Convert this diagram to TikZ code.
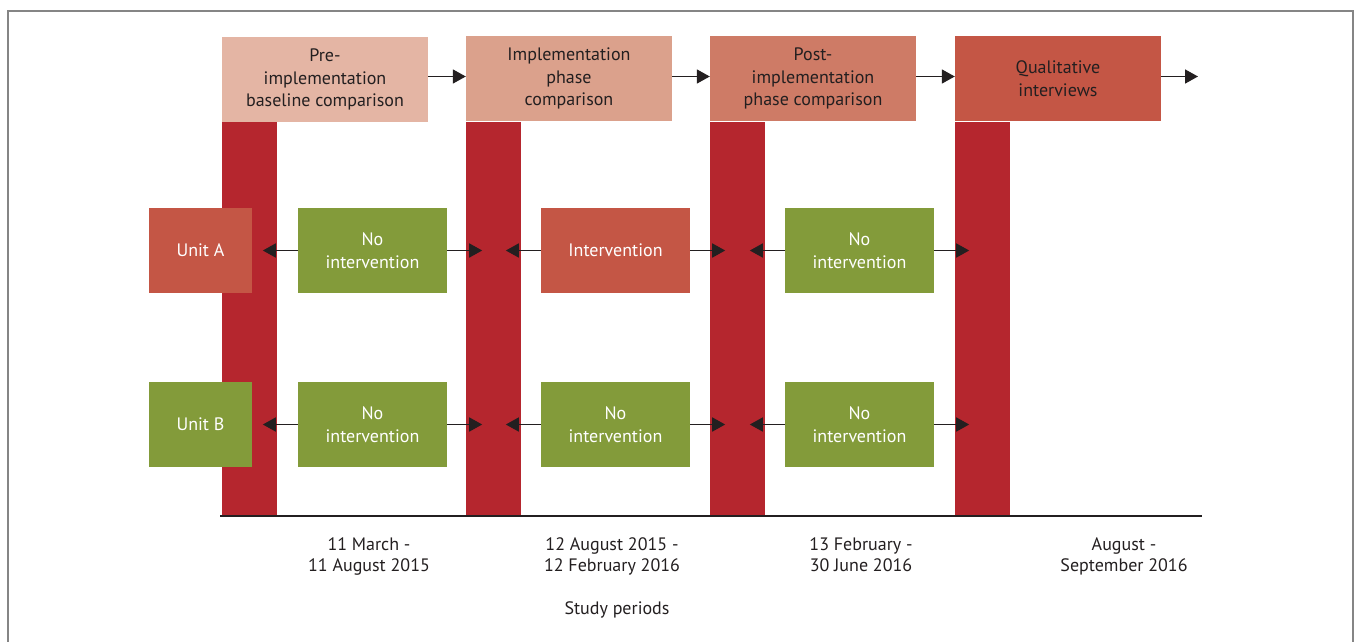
\documentclass[tikz,border=0pt]{standalone}
\usepackage{fontspec}
\setmainfont{PT Sans}
\usetikzlibrary{arrows.meta}
\definecolor{hdA}{HTML}{E4B5A4}
\definecolor{hdB}{HTML}{DBA18C}
\definecolor{hdC}{HTML}{CE7B66}
\definecolor{hdD}{HTML}{C45645}
\definecolor{barred}{HTML}{B5262E}
\definecolor{grn}{HTML}{839B3A}
\definecolor{ink}{HTML}{231F20}
\definecolor{framec}{HTML}{858585}
\begin{document}
\begin{tikzpicture}[x=1pt,y=-1pt,
  txt/.style={font=\fontsize{18}{22.5}\selectfont, align=center},
  hdr/.style={txt, minimum width=206pt, minimum height=85pt, inner sep=0pt, text=ink},
  bar/.style={fill=barred, minimum width=55pt, minimum height=394pt, inner sep=0pt},
  unitbox/.style={txt, minimum width=103pt, minimum height=85pt, inner sep=0pt, text=white},
  phase/.style={txt, minimum width=149pt, minimum height=85pt, inner sep=0pt, text=white},
  arr/.style={draw=ink, line width=1.6pt, -{Triangle[length=13pt,width=14pt]}},
  date/.style={txt, text=ink, font=\fontsize{18}{21}\selectfont, anchor=north, inner sep=0pt}]
\useasboundingbox (0,0) rectangle (1356,641);
\draw[framec, line width=1.6pt] (8,645) -- (8,11) -- (1353,11) -- (1353,645);
% header boxes
\node[hdr, fill=hdA] (h1) at (325,79.5) {Pre-\\implementation\\baseline comparison};
\node[hdr, fill=hdB] (h2) at (569,78.5) {Implementation\\phase\\comparison};
\node[hdr, fill=hdC] (h3) at (813,78.5) {Post-\\implementation\\phase comparison};
\node[hdr, fill=hdD] (h4) at (1058,78.5) {Qualitative\\interviews};
\coordinate (hend) at (1198,76.5);
\draw[arr] ([yshift=3pt]h1.east) -- ([yshift=2pt]h2.west);
\draw[arr] ([yshift=2pt]h2.east) -- ([yshift=2pt]h3.west);
\draw[arr] ([yshift=2pt]h3.east) -- ([yshift=2pt]h4.west);
\draw[arr] ([yshift=2pt]h4.east) -- (hend);
% bars
\node[bar] (b1) at (249.5,319) {};
\node[bar] (b2) at (493.5,319) {};
\node[bar] (b3) at (737.5,319) {};
\node[bar] (b4) at (982.5,319) {};
% baseline
\coordinate (axs) at (220,516);
\coordinate (axe) at (1202,516);
\draw[ink, line width=1.6pt] (axs) -- (axe);
% units
\node[unitbox, fill=hdD] (ua) at (200.5,250.5) {Unit A};
\node[unitbox, fill=grn] (ub) at (200.5,424.5) {Unit B};
% row A
\node[phase, fill=grn] (a1) at (372.5,250.5) {No\\intervention};
\node[phase, fill=hdD] (a2) at (615.5,250.5) {Intervention};
\node[phase, fill=grn] (a3) at (859.5,250.5) {No\\intervention};
% row B
\node[phase, fill=grn] (c1) at (372.5,424.5) {No\\intervention};
\node[phase, fill=grn] (c2) at (615.5,424.5) {No\\intervention};
\node[phase, fill=grn] (c3) at (859.5,424.5) {No\\intervention};
% arrow ends
\foreach \n in {a,c}{
  \foreach \i in {1,2,3}{
    \coordinate (\n\i L) at ([xshift=-35pt]\n\i.west);
    \coordinate (\n\i R) at ([xshift=35pt]\n\i.east);
    \draw[arr] (\n\i.west) -- (\n\i L);
    \draw[arr] (\n\i.east) -- (\n\i R);
  }
}
% dates
\node[date] (d1) at (369,537) {11 March -\\11 August 2015};
\node[date] (d2) at (612,537) {12 August 2015 -\\12 February 2016};
\node[date] (d3) at (861,537) {13 February -\\30 June 2016};
\node[date] (d4) at (1124,537) {August -\\September 2016};
\node[date] (sp) at (617,601) {Study periods};
\end{tikzpicture}
\end{document}
